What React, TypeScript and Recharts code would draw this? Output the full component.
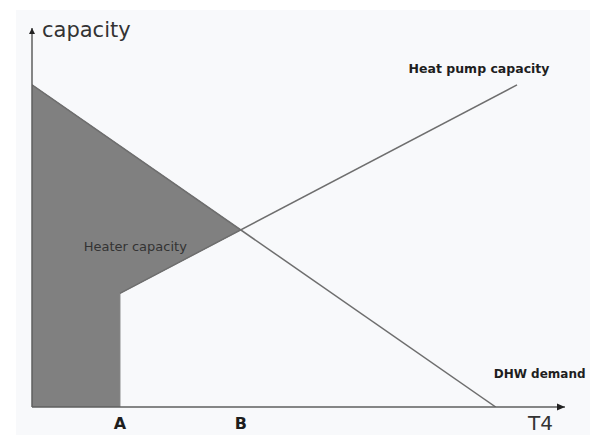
import { ComposedChart, Area, Line, XAxis, YAxis, ReferenceDot } from 'recharts';

// T4 (x) and capacity (y) on a 0..100 scale
const pointNames = ['A', 'B'];
const dhwT4 = [0, 87];
const dhwCapacity = [85, 0];
const hpT4 = [16.5, 91];
const hpCapacity = [30, 85];

const lerp = (xs: number[], ys: number[], x: number) =>
  ys[0] + ((ys[1] - ys[0]) * (x - xs[0])) / (xs[1] - xs[0]);

// A: heat pump switches on; B: heat pump capacity meets DHW demand
const tA = hpT4[0];
const dhwSlope = (dhwCapacity[1] - dhwCapacity[0]) / (dhwT4[1] - dhwT4[0]);
const hpSlope = (hpCapacity[1] - hpCapacity[0]) / (hpT4[1] - hpT4[0]);
const tB = (hpCapacity[0] - hpSlope * hpT4[0] - (dhwCapacity[0] - dhwSlope * dhwT4[0])) / (dhwSlope - hpSlope);
const cB = lerp(dhwT4, dhwCapacity, tB);

const rows = [
  { t: dhwT4[0], heater: [0, dhwCapacity[0]], dhw: dhwCapacity[0] },
  { t: tA, heater: [0, lerp(dhwT4, dhwCapacity, tA)] },
  { t: tA, heater: [hpCapacity[0], lerp(dhwT4, dhwCapacity, tA)], hp: hpCapacity[0] },
  { t: tB, heater: [cB, cB] },
  { t: dhwT4[1], dhw: dhwCapacity[1] },
  { t: hpT4[1], hp: hpCapacity[1] },
];

const FONT = '"DejaVu Sans", sans-serif';
const AXIS = '#5f5f5f';

export default function App() {
  return (
    <div style={{ position: 'absolute', left: 0, top: 0, width: 597, height: 435, background: '#fff' }}>
      <div style={{ position: 'absolute', left: 16, top: 10, width: 574, height: 425, background: '#f8f9fb' }} />
      <div style={{ position: 'absolute', left: 0, top: 0 }}>
        <ComposedChart width={597} height={435} data={rows} margin={{ top: 28, right: 32, bottom: 0, left: 0 }}>
          <XAxis
            type="number"
            dataKey="t"
            domain={[0, 100]}
            allowDataOverflow
            height={28}
            ticks={[tA, tB]}
            tickFormatter={(v: number) => (v === tA ? pointNames[0] : pointNames[1])}
            tickLine={false}
            tickMargin={5}
            tick={{ fontSize: 16, fontWeight: 'bold', fill: '#1e1e1e', fontFamily: FONT }}
            axisLine={{ stroke: AXIS, strokeWidth: 1.5 }}
          />
          <YAxis
            type="number"
            domain={[0, 100]}
            allowDataOverflow
            width={32}
            tick={false}
            tickLine={false}
            axisLine={{ stroke: AXIS, strokeWidth: 1.5 }}
          />
          <Line
            dataKey="dhw"
            type="linear"
            stroke="#6e6e6e"
            strokeWidth={1.5}
            dot={false}
            activeDot={false}
            connectNulls
            isAnimationActive={false}
          />
          <Line
            dataKey="hp"
            type="linear"
            stroke="#6e6e6e"
            strokeWidth={1.5}
            dot={false}
            activeDot={false}
            connectNulls
            isAnimationActive={false}
          />
          <Area
            dataKey="heater"
            type="linear"
            fill="#808080"
            fillOpacity={1}
            stroke="#808080"
            strokeWidth={1}
            isAnimationActive={false}
          />
          <ReferenceDot
            x={100}
            y={0}
            ifOverflow="visible"
            shape={(p: any) => (
              <g>
                <path d={`M${p.cx},${p.cy} L${p.cx - 8},${p.cy - 3.5} L${p.cx - 8},${p.cy + 3.5} Z`} fill="#222" />
                <text x={p.cx - 12} y={p.cy + 23} textAnchor="end" fontSize={20} fill="#333" fontFamily={FONT}>
                  T4
                </text>
              </g>
            )}
          />
          <ReferenceDot
            x={0}
            y={100}
            ifOverflow="visible"
            shape={(p: any) => (
              <g>
                <path d={`M${p.cx},${p.cy} L${p.cx - 3},${p.cy + 6} L${p.cx + 3},${p.cy + 6} Z`} fill="#222" />
                <text x={p.cx + 10} y={p.cy + 9} fontSize={21} fill="#333" fontFamily={FONT}>
                  capacity
                </text>
              </g>
            )}
          />
          <ReferenceDot
            x={hpT4[1]}
            y={hpCapacity[1]}
            ifOverflow="visible"
            shape={(p: any) => (
              <text x={p.cx - 38} y={p.cy - 12} textAnchor="middle" fontSize={12.5} fontWeight="bold" fill="#1e1e1e" fontFamily={FONT}>
                Heat pump capacity
              </text>
            )}
          />
          <ReferenceDot
            x={dhwT4[1]}
            y={dhwCapacity[1]}
            ifOverflow="visible"
            shape={(p: any) => (
              <text x={p.cx - 2} y={p.cy - 29} fontSize={12} fontWeight="bold" fill="#1e1e1e" fontFamily={FONT}>
                DHW demand
              </text>
            )}
          />
          <ReferenceDot
            x={19}
            y={40}
            ifOverflow="visible"
            shape={(p: any) => (
              <text x={p.cx + 2} y={p.cy - 4} textAnchor="middle" fontSize={13} fill="#333" fontFamily={FONT}>
                Heater capacity
              </text>
            )}
          />
        </ComposedChart>
      </div>
    </div>
  );
}
